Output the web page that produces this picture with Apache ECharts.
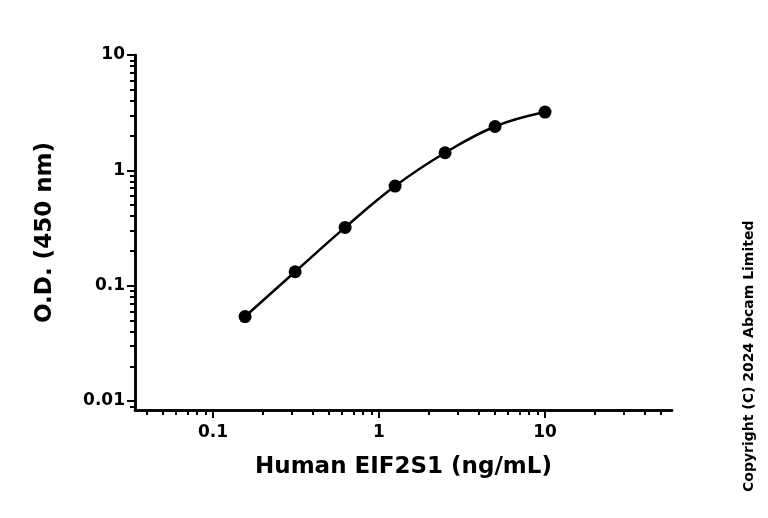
<!DOCTYPE html>
<html><head><meta charset="utf-8">
<script src="https://cdn.jsdelivr.net/npm/echarts@6/dist/echarts.min.js"></script>
<style>html,body{margin:0;padding:0;background:#fff}#c{width:768px;height:518px}</style>
</head><body><div id="c"></div>
<script>
const conc = [0.156, 0.3125, 0.625, 1.25, 2.5, 5, 10];
const od = [0.054, 0.132, 0.32, 0.73, 1.42, 2.4, 3.2];
const xMajor = [0.1, 1, 10];
const yMajor = [0.01, 0.1, 1, 10];

const L = Math.log10;
function minors(lo, hi){const r=[];for(let e=lo;e<=hi;e++)for(let k=1;k<10;k++)r.push(L(k*Math.pow(10,e)));return r;}
const xMin=-1.47, xMax=1.765, yMin=-2.078, yMax=1;
const xMinor=minors(-2,1).filter(v=>v>=xMin&&v<=xMax);
const yMinor=minors(-3,1).filter(v=>v>=yMin&&v<=yMax);
const lab=v=>String(+Math.pow(10,Math.round(v)).toPrecision(1));
const font='DejaVu Sans';
const base={type:'value',axisLine:{show:true,onZero:false,lineStyle:{color:'#000',width:2.5}},splitLine:{show:false}};
const chart=echarts.init(document.getElementById('c'));
chart.setOption({
  animation:false,
  grid:{left:135,top:55,right:96,bottom:108},
  xAxis:[
    Object.assign({},base,{min:xMin,max:xMax,
      axisTick:{show:true,customValues:xMajor.map(L),length:8,lineStyle:{width:2,color:'#000'}},
      axisLabel:{customValues:xMajor.map(L),formatter:lab,fontFamily:font,fontWeight:'bold',fontSize:17,color:'#000',margin:14},
      name:'Human EIF2S1 (ng/mL)',nameLocation:'middle',nameGap:46,nameTextStyle:{fontFamily:font,fontWeight:'bold',fontSize:23,color:'#000'}}),
    Object.assign({},base,{min:xMin,max:xMax,position:'bottom',
      axisTick:{show:true,customValues:xMinor,length:5,lineStyle:{width:2,color:'#000'}},axisLabel:{show:false}})
  ],
  yAxis:[
    Object.assign({},base,{min:yMin,max:yMax,
      axisTick:{show:true,customValues:yMajor.map(L),length:8,lineStyle:{width:2,color:'#000'}},
      axisLabel:{customValues:yMajor.map(L),formatter:lab,fontFamily:font,fontWeight:'bold',fontSize:17,color:'#000',margin:10},
      name:'O.D. (450 nm)',nameLocation:'middle',nameGap:78,nameTextStyle:{fontFamily:font,fontWeight:'bold',fontSize:23,color:'#000'}}),
    Object.assign({},base,{min:yMin,max:yMax,position:'left',
      axisTick:{show:true,customValues:yMinor,length:5,lineStyle:{width:2,color:'#000'}},axisLabel:{show:false}})
  ],
  series:[{type:'line',smooth:0.4,data:conc.map((c,i)=>[L(c),L(od[i])]),
    symbol:'circle',symbolSize:13,itemStyle:{color:'#000'},lineStyle:{color:'#000',width:2.5}}],
  graphic:[{type:'text',x:742,y:492,rotation:Math.PI/2,
    style:{text:'Copyright (C) 2024 Abcam Limited',font:'bold 14px "DejaVu Sans"',fill:'#000'}}]
});
</script></body></html>
